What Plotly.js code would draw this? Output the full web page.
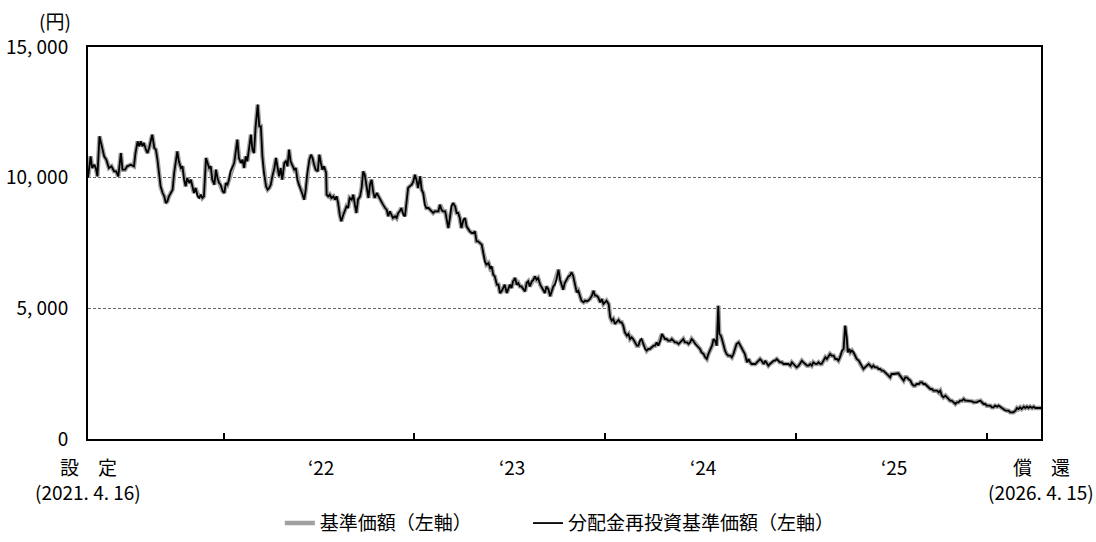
<!DOCTYPE html>
<html>
<head>
<meta charset="utf-8">
<script src="https://cdn.plot.ly/plotly-3.0.1.min.js"></script>
<style>html,body{margin:0;padding:0;background:#fff;}#chart{width:1096px;height:542px;}</style>
</head>
<body>
<div id="chart"></div>
<script>
// Launch / redemption dates
const launchDate = '2021-04-16';
const redemptionDate = '2026-04-15';

const daysFromLaunch = [
0,5,8,12,15,18,22,26,31,35,40,45,50,54,58,63,66,71,75,82,88,91,95,98,101,104,107,111,114,117,120,123,127,130,133,136,139,143,146,149,152,155,159,162,165,168,171,174,178,181,184,187,190,194,197,200,203,206,210,213,216,219,222,226,229,232,235,238,242,245,248,251,254,258,261,264,267,270,273,277,280,283,286,289,293,296,299,302,305,309,312,315,318,321,325,328,331,334,337,341,344,347,350,353,357,360,363,366,369,372,376,379,382,385,388,392,395,398,401,404,408,411,414,417,420,424,427,430,433,436,440,443,446,449,452,456,
457,460,463,466,470,473,476,479,482,485,489,492,495,498,501,505,508,511,514,517,521,524,527,530,533,537,540,543,546,549,553,556,559,562,565,569,572,575,578,581,584,588,591,594,597,600,604,607,610,613,616,620,623,626,629,632,636,639,642,645,648,652,655,658,661,664,668,671,674,677,680,684,687,690,693,696,699,703,706,709,712,715,719,722,725,728,731,735,738,741,744,747,751,754,757,760,763,767,770,773,776,779,783,786,789,792,795,798,802,805,808,811,814,818,821,824,827,830,834,837,840,843,846,850,853,856,859,862,866,869,872,875,878,882,885,888,891,894,897,901,904,907,910,913,917,920,
923,926,929,933,936,939,942,945,949,952,955,958,961,965,968,971,974,977,981,984,987,990,993,997,1000,1003,1006,1009,1012,1016,1019,1022,1025,1028,1032,1035,1038,1041,1044,1048,1051,1054,1057,1060,1064,1067,1070,1073,1076,1080,1083,1086,1089,1092,1096,1099,1102,1105,1108,1111,1115,1118,1121,1124,1127,1131,1134,1137,1140,1143,1147,1150,1153,1156,1159,1163,1166,1169,1172,1175,1179,1182,1185,1188,1191,1195,1198,1201,1204,1207,1209,1212,1214,1217,1220,1223,1226,1230,1233,1236,1239,1242,1246,1249,1252,1255,1258,1262,1265,1268,1271,1274,1278,1281,1284,1287,1290,1294,1297,1300,1303,1306,1310,1313,1316,1319,1322,1325,1329,1332,1335,1338,1341,1345,1348,1351,1354,1357,1361,1364,1367,1370,1373,1377,
1380,1383,1386,1389,1393,1396,1399,1402,1405,1408,1412,1415,1418,1421,1424,1428,1431,1434,1437,1440,1444,1447,1450,1453,1455,1458,1460,1463,1466,1469,1472,1476,1479,1482,1485,1488,1492,1495,1498,1501,1504,1507,1511,1514,1517,1520,1523,1527,1530,1533,1536,1539,1543,1546,1549,1552,1555,1559,1562,1565,1568,1571,1575,1578,1581,1584,1587,1591,1594,1597,1600,1603,1606,1610,1613,1616,1619,1622,1626,1629,1632,1635,1638,1642,1645,1648,1651,1654,1658,1661,1664,1667,1670,1674,1677,1680,1683,1686,1690,1693,1696,1699,1702,1705,1709,1712,1715,1718,1721,1725,1728,1731,1734,1737,1741,1744,1747,1750,1753,1757,1760,1763,1766,1769,1772,1776,1779,1782,1785,1788,1792,1795,1798,1801,1804,1808,1811,1814,1817,1820,1825
];

// 基準価額 (円) — no distributions were paid, so the reinvested series equals it
const navValues = [
10000,10816,10370,10498,10370,10051,11582,11199,10816,10689,10370,10434,10242,10242,10051,10944,10306,10306,10434,10498,10434,10944,11391,11199,11391,11199,11327,11072,10944,11135,11454,11646,11135,11072,10689,10179,9668,9413,9286,9030,9094,9286,9413,9541,10179,10689,11008,10625,10370,10434,9923,9668,9987,9796,9923,9668,9413,9605,9286,9222,9349,9222,9286,10753,10561,10370,10434,9923,9732,10306,9987,9796,9732,9477,9413,9796,9732,9923,10242,10434,10561,11008,11454,10753,10561,10689,10370,10816,10625,11199,11646,11072,10944,11965,12794,11965,11965,10816,10179,9668,9541,9605,9732,10051,10370,10753,10306,10051,10370,9923,10561,10625,10434,11072,10625,10434,10306,10370,9923,9732,9541,9349,9158,9541,10179,10689,10880,10753,10498,10306,10242,10880,10561,10306,10434,10179,
9349,9286,9349,9222,9286,9158,9286,9030,8584,8329,8584,8712,8903,8839,9222,9158,9349,8967,8648,9158,9286,9605,10242,10115,9732,9222,9732,9923,9477,9222,9413,9286,9222,9094,8967,8839,8775,8520,8712,8584,8456,8520,8456,8648,8712,8839,8584,8520,9030,9605,9668,9732,9860,10115,9923,9605,10051,9541,9413,8967,8839,8839,8775,8712,8648,8712,8712,8712,8967,8775,8712,8712,8393,8074,8456,8903,9030,8903,8648,8648,8456,8074,8393,8456,8137,8010,7946,7882,7882,7946,7563,7563,7500,7436,7117,6798,6670,6734,6543,6607,6288,6224,5905,5905,5586,5650,5777,5905,5586,5714,5905,5777,6033,6160,5905,5969,5841,5841,5714,5650,5969,6033,5841,6033,6096,6224,6096,6160,5905,5777,5714,5586,5841,5714,5459,5650,5841,5905,6096,6479,6096,5905,5714,5969,6096,6224,
6250,6378,6250,5867,5612,5676,5485,5293,5230,5293,5268,5293,5357,5485,5676,5485,5485,5421,5230,5357,5166,5230,5293,5166,4656,4528,4592,4400,4464,4554,4464,4464,4337,4082,3954,4018,3826,3890,3826,3699,3571,3571,3763,3826,3635,3444,3380,3444,3444,3507,3571,3571,3699,3571,3763,4018,3890,3826,3826,3763,3763,3826,3763,3699,3699,3635,3699,3763,3826,3699,3699,3635,3699,3826,3763,3635,3571,3507,3444,3316,3252,3125,3061,3252,3380,3571,3826,3763,3571,5102,4018,3954,3826,3571,3380,3252,3189,3189,3125,3252,3444,3635,3699,3571,3507,3316,3252,2933,3061,2933,2870,2870,2870,2933,2997,3061,2997,2870,2997,2870,2806,2870,2933,2997,2997,3061,2997,2933,2933,2870,2870,2870,2870,2806,2933,2870,2806,2742,2806,2933,2997,2933,2870,2806,
2807,2871,2807,2934,2871,2871,2934,2871,2871,2998,3126,3062,3190,3253,3190,3190,3062,3062,2998,3126,3381,3445,4338,3891,3317,3445,3317,3381,3317,3190,3062,2998,2871,2743,2679,2743,2807,2871,2807,2743,2807,2743,2743,2679,2679,2615,2615,2552,2488,2424,2360,2488,2488,2488,2488,2513,2424,2297,2233,2360,2360,2297,2233,2105,2041,2041,2105,2105,2169,2169,2105,2105,2041,1978,1914,1914,1850,1850,1850,1786,1850,1659,1595,1659,1595,1531,1467,1467,1404,1340,1404,1404,1467,1467,1531,1467,1467,1467,1467,1442,1404,1404,1404,1442,1467,1404,1340,1340,1276,1276,1276,1212,1212,1276,1238,1276,1212,1187,1148,1085,1085,1085,1021,1021,1021,1085,1187,1148,1212,1148,1238,1187,1238,1187,1238,1187,1238,1187,1187,1187,1187
];

// Axis labels
const yTickVals = [0, 5000, 10000, 15000];
const yTickText = ['0', '5, 000', '10, 000', '15, 000'];
const yearTickDates = ['2022-01-01', '2023-01-01', '2024-01-01', '2025-01-01', '2026-01-01'];
const xLabelDates = [launchDate, '2022-07-07', '2023-07-07', '2024-07-06', '2025-07-07', redemptionDate];
const xLabelText = ['設　定', '‘22', '‘23', '‘24', '‘25', '償　還'];
const xSubLabelDates = [launchDate, redemptionDate];
const xSubLabelText = ['(2021. 4. 16)', '(2026. 4. 15)'];
const seriesNames = ['基準価額（左軸）', '分配金再投資基準価額（左軸）'];

const launchMs = Date.UTC(2021, 3, 16);
const dates = daysFromLaunch.map(d => new Date(launchMs + d * 86400000).toISOString().slice(0, 10));

const FONT = '"Noto Sans CJK JP", "Noto Sans", sans-serif';
const FS = 19;

const traces = [
  {x: dates, y: navValues, type: 'scatter', mode: 'lines', name: seriesNames[0], legend: 'legend',
   line: {color: '#a0a0a0', width: 4.5}, hoverinfo: 'skip'},
  {x: dates, y: navValues, type: 'scatter', mode: 'lines', name: seriesNames[1], legend: 'legend2',
   line: {color: '#000000', width: 1.8}, hoverinfo: 'skip'}
];

const annotations = [];
xLabelDates.forEach((d, i) => annotations.push({
  x: d, y: -0.0694, xref: 'x', yref: 'paper', text: xLabelText[i], showarrow: false,
  xanchor: 'center', yanchor: 'middle', font: {family: FONT, size: FS, color: '#000'}
}));
xSubLabelDates.forEach((d, i) => annotations.push({
  x: d, y: -0.1344, xref: 'x', yref: 'paper', text: xSubLabelText[i], showarrow: false,
  xanchor: 'center', yanchor: 'middle', font: {family: FONT, size: FS, color: '#000'}
}));
annotations.push({
  x: -0.0344, y: 1.068, xref: 'paper', yref: 'paper', text: '(円)', showarrow: false,
  xanchor: 'center', yanchor: 'middle', borderpad: 0, font: {family: FONT, size: FS, color: '#000'}
});

const legendCommon = {orientation: 'h', xanchor: 'left', y: -0.2633, yanchor: 'bottom',
  bgcolor: 'rgba(0,0,0,0)', font: {family: FONT, size: FS, color: '#000'}};

const layout = {
  width: 1096, height: 542,
  margin: {l: 88, r: 55, t: 47, b: 103, autoexpand: false},
  paper_bgcolor: '#fff', plot_bgcolor: '#fff',
  font: {family: FONT, size: FS, color: '#000'},
  showlegend: true,
  legend: Object.assign({x: 0.2013}, legendCommon),
  legend2: Object.assign({x: 0.4617}, legendCommon),
  xaxis: {
    type: 'date', range: [launchDate, redemptionDate],
    showgrid: false, zeroline: false,
    showline: true, linecolor: '#000', linewidth: 2, mirror: true,
    tickmode: 'array', tickvals: yearTickDates, ticks: 'inside', ticklen: 6,
    tickwidth: 2, tickcolor: '#000', showticklabels: false
  },
  yaxis: {
    range: [0, 15000], tickmode: 'array', tickvals: yTickVals, ticktext: yTickText,
    showgrid: true, gridcolor: '#666', gridwidth: 1, griddash: '3px,2px',
    zeroline: false, showline: true, linecolor: '#000', linewidth: 2, mirror: true,
    ticks: '', ticklabelstandoff: 14,
    tickfont: {family: FONT, size: FS, color: '#000'}
  },
  annotations: annotations
};

Plotly.newPlot('chart', traces, layout, {staticPlot: true, displayModeBar: false});
</script>
</body>
</html>
